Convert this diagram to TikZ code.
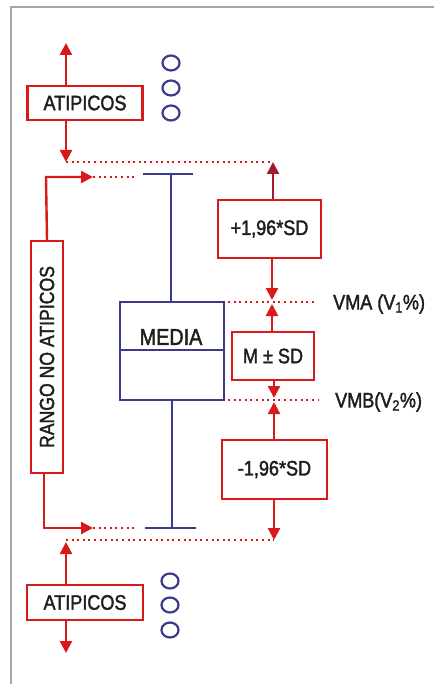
\documentclass[tikz,border=0pt]{standalone}
\usepackage{fontspec}
\setmainfont{Liberation Sans}
\newfontfamily\cnd[FakeStretch=0.86,FakeBold=1.8]{Liberation Sans}
\usetikzlibrary{arrows.meta,shapes.geometric}
\definecolor{rd}{HTML}{D81A1A}
\definecolor{drd}{HTML}{A3182A}
\definecolor{nv}{HTML}{3B3B8E}
\definecolor{fr}{HTML}{A0A4B4}
\definecolor{tx}{HTML}{1E1E1E}
\tikzset{
  rbox/.style={draw=rd, line width=2.4pt, fill=white, text=tx, font=\cnd\fontsize{21}{23}\selectfont, inner sep=0pt},
  arr/.style={draw=rd, line width=2.4pt, -{Triangle[length=12pt,width=12pt]}},
  dots/.style={draw=rd, line width=2pt, dash pattern=on 2pt off 3.6pt},
  blu/.style={draw=nv, line width=1.9pt},
  circ/.style={draw=nv, line width=2.2pt, ellipse, minimum width=17pt, minimum height=15pt, inner sep=0pt},
  lbl/.style={text=tx, font=\cnd\fontsize{21}{23}\selectfont, inner sep=0pt}
}
\begin{document}
\begin{tikzpicture}[x=1pt,y=-1pt]
\useasboundingbox (0,0) rectangle (434,684);
\fill[white] (0,0) rectangle (434,684);
% frame
\draw[fr, line width=1.4pt] (11,684) -- (11,7) -- (434,7);

% boxes
\node[rbox, minimum width=115pt, minimum height=34pt] (atop) at (85,103) {ATIPICOS};
\node[rbox, minimum width=116pt, minimum height=35pt] (abot) at (85,602.5) {ATIPICOS};
\node[rbox, minimum width=103pt, minimum height=58pt] (plus) at (269.5,229) {+1,96*SD};
\node[rbox, minimum width=82pt, minimum height=48pt] (msd) at (273,356) {M ± SD};
\node[rbox, minimum width=105pt, minimum height=59pt] (minus) at (274.5,469.5) {-1,96*SD};
\node[rbox, minimum width=232pt, minimum height=32pt, rotate=90, font=\cnd\fontsize{20.5}{23}\selectfont] (rango) at (47,357) {RANGO NO ATIPICOS};

% circles
\node[circ] (c1) at (171,63) {};
\node[circ] (c2) at (171,88) {};
\node[circ] (c3) at (171,113) {};
\node[circ] (c4) at (170,581) {};
\node[circ] (c5) at (170,605) {};
\node[circ] (c6) at (170,630) {};

% MEDIA box
\node[draw=nv, line width=1.9pt, minimum width=104pt, minimum height=98pt, inner sep=0pt] (media) at (172,351) {};
\draw[blu] (media.west |- 0,350) coordinate (mdl) -- (media.east |- 0,350) coordinate (mdr);
\node[lbl, font=\cnd\fontsize{23}{25}\selectfont] (mtxt) at (171,337) {MEDIA};

% whiskers
\coordinate (wt) at (171,174);
\coordinate (wb) at (172,528);
\coordinate (wtl) at (143,174);
\coordinate (wtr) at (193,174);
\coordinate (wbl) at (145,528);
\coordinate (wbr) at (196,528);
\draw[blu] (wtl) -- (wtr);
\draw[blu] (wt) -- (wt |- media.north);
\draw[blu] (wbl) -- (wbr);
\draw[blu] (wb |- media.south) -- (wb);

% top atipicos arrows
\coordinate (ut) at (66,43);
\coordinate (dt) at (66,162);
\coordinate (pt) at (273,162);
\draw[arr] (ut |- atop.north) -- (ut);
\draw[arr] (dt |- atop.south) -- (dt);
\draw[dots] (dt) -- (pt);
\draw[arr, draw=drd] (pt |- plus.north) -- (pt);

% rango top
\coordinate (rt1) at (46,177);
\coordinate (rt2) at (93,177);
\coordinate (rt3) at (135,177);
\draw[arr] (rango.east) -- (rt1) -- (rt2);
\draw[dots] (rt2) -- (rt3);
% rango bottom
\coordinate (rb1) at (44,528);
\coordinate (rb2) at (93,528);
\coordinate (rb3) at (135,528);
\draw[arr] (rb1 |- rango.west) -- (rb1) -- (rb2);
\draw[dots] (rb2) -- (rb3);

% VMA
\coordinate (va1) at (228,302);
\coordinate (va2) at (316,302);
\coordinate (vad) at (272,300);
\coordinate (vau) at (272,304);
\draw[dots] (va1) -- (va2);
\draw[arr] (vad |- plus.south) -- (vad);
\draw[arr] (vau |- msd.north) -- (vau);
\node[lbl, anchor=west] (vma) at (333,304) {VMA (V\textsubscript{1}\%)};

% VMB
\coordinate (vb1) at (228,400);
\coordinate (vb2) at (318,400);
\coordinate (vbd) at (274,398);
\coordinate (vbu) at (274,402);
\draw[dots] (vb1) -- (vb2);
\draw[arr] (vbd |- msd.south) -- (vbd);
\draw[arr] (vbu |- minus.north) -- (vbu);
\node[lbl, anchor=west] (vmb) at (335,402) {VMB(V\textsubscript{2}\%)};

% bottom
\coordinate (md) at (274,540);
\coordinate (bu) at (66,542);
\coordinate (bl) at (66,540);
\coordinate (bd) at (66,653);
\draw[arr] (md |- minus.south) -- (md);
\draw[dots] (bl) -- (md);
\draw[arr] (bu |- abot.north) -- (bu);
\draw[arr] (bd |- abot.south) -- (bd);
\end{tikzpicture}
\end{document}
